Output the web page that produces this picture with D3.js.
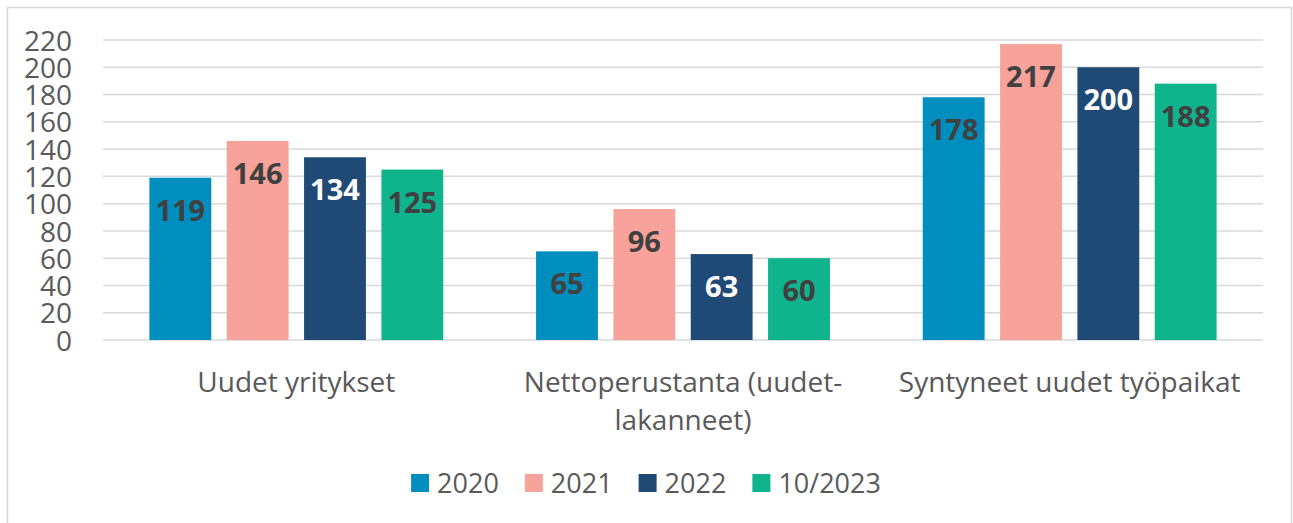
<!DOCTYPE html>
<html>
<head>
<meta charset="utf-8">
<script src="https://cdn.jsdelivr.net/npm/d3@7"></script>
<style>
  body { margin: 0; background: #fff; }
  svg { display: block; font-family: "Open Sans", sans-serif; }
</style>
</head>
<body>
<div id="chart"></div>
<script>
// data
var categories = ["Uudet yritykset", "Nettoperustanta (uudet-lakanneet)", "Syntyneet uudet työpaikat"];
var series = ["2020", "2021", "2022", "10/2023"];
var values2020 = [119, 65, 178];
var values2021 = [146, 96, 217];
var values2022 = [134, 63, 200];
var values2023 = [125, 60, 188];
var yTicks = [0, 20, 40, 60, 80, 100, 120, 140, 160, 180, 200, 220];

var seriesValues = [values2020, values2021, values2022, values2023];
var colors = ["#008EBE", "#F7A29A", "#1F4A75", "#10B48C"];
var labelColors = ["#404040", "#404040", "#ffffff", "#404040"];

var svgWidth = 1293;
var svgHeight = 523;

var plot = { left: 103, right: 1263, top: 40, bottom: 340 };

var svg = d3.select("#chart")
  .append("svg")
  .attr("width", svgWidth)
  .attr("height", svgHeight);

// outer border
svg.append("rect")
  .attr("x", 7.5)
  .attr("y", 7.5)
  .attr("width", 1284)
  .attr("height", 530)
  .attr("fill", "none")
  .attr("stroke", "#D9D9D9")
  .attr("stroke-width", 1.5);

var y = d3.scaleLinear()
  .domain([0, 220])
  .range([plot.bottom, plot.top]);

var x0 = d3.scaleBand()
  .domain(categories)
  .range([plot.left, plot.right]);

var groupWidth = x0.bandwidth() * 0.76;
var x1 = d3.scaleBand()
  .domain(series)
  .range([0, groupWidth])
  .paddingInner(0.2);

// gridlines
svg.append("g")
  .selectAll("line")
  .data(yTicks)
  .enter().append("line")
  .attr("x1", plot.left)
  .attr("x2", plot.right)
  .attr("y1", d => y(d))
  .attr("y2", d => y(d))
  .attr("stroke", "#D9D9D9")
  .attr("stroke-width", 1.5);

// y axis
var leftAxis = d3.axisLeft(y).tickValues(yTicks).tickSize(0).tickPadding(0);
var yAxis = svg.append("g")
  .attr("transform", "translate(72,0)")
  .call(leftAxis);
yAxis.select(".domain").remove();
yAxis.selectAll("text")
  .attr("font-family", "Open Sans, sans-serif")
  .attr("font-size", 28)
  .attr("fill", "#595959")
  .attr("dy", "0.36em");

// bars
var groups = svg.append("g")
  .selectAll("g")
  .data(categories)
  .enter().append("g")
  .attr("transform", d => `translate(${x0(d) + (x0.bandwidth() - groupWidth) / 2},0)`);

groups.selectAll("rect")
  .data((c, ci) => series.map((s, si) => ({ s: s, si: si, v: seriesValues[si][ci] })))
  .enter().append("rect")
  .attr("x", d => x1(d.s))
  .attr("y", d => y(d.v))
  .attr("width", x1.bandwidth())
  .attr("height", d => y(0) - y(d.v))
  .attr("fill", d => colors[d.si]);

groups.selectAll("text")
  .data((c, ci) => series.map((s, si) => ({ s: s, si: si, v: seriesValues[si][ci] })))
  .enter().append("text")
  .attr("x", d => x1(d.s) + x1.bandwidth() / 2)
  .attr("y", d => y(d.v) + 43)
  .attr("text-anchor", "middle")
  .attr("font-size", 29)
  .attr("font-weight", "bold")
  .attr("fill", d => labelColors[d.si])
  .text(d => d.v);

// category labels (wrapped)
var catLabels = svg.append("g")
  .selectAll("text")
  .data(categories)
  .enter().append("text")
  .attr("x", d => x0(d) + x0.bandwidth() / 2)
  .attr("y", 392)
  .attr("text-anchor", "middle")
  .attr("font-size", 28)
  .attr("fill", "#595959");

catLabels.each(function(d) {
  var el = d3.select(this);
  var words = d.split(/(?<=[\s-])/);
  var lines = [];
  var line = "";
  var probe = el.append("tspan");
  words.forEach(function(w) {
    var test = line + w;
    probe.text(test.trim());
    if (line && probe.node().getComputedTextLength() > x0.bandwidth() - 10) {
      lines.push(line.trim());
      line = w;
    } else {
      line = test;
    }
  });
  lines.push(line.trim());
  probe.remove();
  lines.forEach(function(l, i) {
    el.append("tspan")
      .attr("x", x0(d) + x0.bandwidth() / 2)
      .attr("dy", i === 0 ? 0 : 38)
      .text(l);
  });
});

// legend
var legend = svg.append("g");
var items = legend.selectAll("g")
  .data(series)
  .enter().append("g");

items.append("rect")
  .attr("width", 18)
  .attr("height", 18)
  .attr("y", 474)
  .attr("fill", (d, i) => colors[i]);

items.append("text")
  .attr("x", 26)
  .attr("y", 493)
  .attr("font-size", 27)
  .attr("fill", "#595959")
  .text(d => d);

var offset = 0;
var widths = [];
items.each(function() {
  var w = d3.select(this).select("text").node().getComputedTextLength() + 26;
  widths.push(w);
});
var totalW = d3.sum(widths) + 26 * (widths.length - 1);
offset = 646 - totalW / 2;
items.attr("transform", function(d, i) {
  var t = `translate(${offset},0)`;
  offset += widths[i] + 26;
  return t;
});
</script>
</body>
</html>
